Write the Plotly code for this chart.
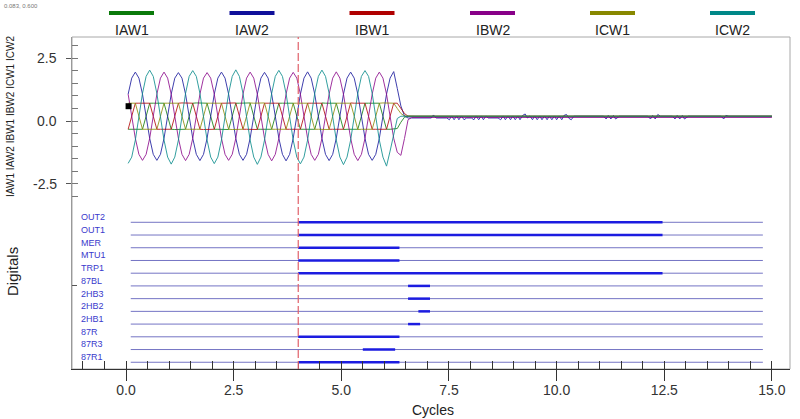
import plotly.graph_objects as go

# ---------------- data ----------------
analog_names = ["IAW1", "IAW2", "IBW1", "IBW2", "ICW1", "ICW2"]
analog_colors = ["#0A7A0A", "#10109A", "#B00000", "#880088", "#888800", "#008888"]

# sample times (cycles)
t_analog = [
    0.050, 0.133, 0.217, 0.300, 0.383, 0.467, 0.550, 0.633, 0.717, 0.800, 0.883, 0.967,
    1.050, 1.133, 1.217, 1.300, 1.383, 1.467, 1.550, 1.633, 1.717, 1.800, 1.883, 1.967,
    2.050, 2.133, 2.217, 2.300, 2.383, 2.467, 2.550, 2.633, 2.717, 2.800, 2.883, 2.967,
    3.050, 3.133, 3.217, 3.300, 3.383, 3.467, 3.550, 3.633, 3.717, 3.800, 3.883, 3.967,
    4.050, 4.133, 4.217, 4.300, 4.383, 4.467, 4.550, 4.633, 4.717, 4.800, 4.883, 4.967,
    5.050, 5.133, 5.217, 5.300, 5.383, 5.467, 5.550, 5.633, 5.717, 5.800, 5.883, 5.967,
    6.050, 6.133, 6.217, 6.300, 6.383, 6.467, 6.550, 6.633,
    6.717, 15.00,
]

iaw1 = [
    -0.33, -0.33, -0.33, -0.33, -0.33, 0.19, 0.71, 0.71, 0.71, 0.71, 0.71, 0.19,
    -0.33, -0.34, -0.33, -0.33, -0.33, 0.19, 0.71, 0.72, 0.71, 0.71, 0.71, 0.19,
    -0.33, -0.33, -0.33, -0.33, -0.34, 0.19, 0.71, 0.71, 0.71, 0.71, 0.72, 0.19,
    -0.33, -0.33, -0.34, -0.33, -0.33, 0.19, 0.71, 0.71, 0.71, 0.72, 0.71, 0.19,
    -0.33, -0.33, -0.33, -0.33, -0.33, 0.19, 0.72, 0.71, 0.71, 0.71, 0.71, 0.19,
    -0.34, -0.33, -0.33, -0.33, -0.33, 0.19, 0.71, 0.71, 0.71, 0.71, 0.71, 0.19,
    -0.33, -0.33, -0.33, -0.30, -0.05, 0.15, 0.19, 0.19,
    0.19, 0.19,
]
iaw2 = [
    1.07, 1.71, 1.95, 1.71, 1.07, 0.19, -0.69, -1.33, -1.57, -1.33, -0.69, 0.19,
    1.07, 1.71, 1.93, 1.71, 1.07, 0.19, -0.69, -1.33, -1.58, -1.33, -0.69, 0.19,
    1.07, 1.71, 1.95, 1.71, 1.07, 0.19, -0.69, -1.33, -1.57, -1.33, -0.69, 0.19,
    1.07, 1.71, 1.94, 1.71, 1.07, 0.19, -0.69, -1.33, -1.59, -1.33, -0.69, 0.19,
    1.07, 1.71, 1.96, 1.71, 1.07, 0.19, -0.69, -1.33, -1.58, -1.33, -0.69, 0.19,
    1.07, 1.71, 1.95, 1.71, 1.07, 0.19, -0.69, -1.33, -1.57, -1.33, -0.69, 0.19,
    1.07, 1.71, 1.97, 1.30, 0.60, 0.20, 0.12, 0.12,
]
# IAW2 residual after breaker opening (small ripples)
iaw2_post_t = [
    6.72, 7.09, 7.14, 7.20, 7.45, 7.51, 7.56, 7.62, 7.68, 7.73, 7.79, 7.85, 7.91,
    8.02, 8.08, 8.13, 8.19, 8.25, 8.30, 8.36, 8.41,
    8.64, 8.70, 8.76, 8.81, 8.87, 8.93, 8.98, 9.04, 9.10, 9.15, 9.21, 9.27, 9.32,
    9.38, 9.44, 9.49, 9.55, 9.61, 9.66, 9.72, 9.78, 9.83, 9.89, 9.95, 10.00,
    10.06, 10.12, 10.17, 10.23, 10.29, 10.34, 10.40,
    11.09, 11.15, 11.20, 11.26, 11.32, 11.37, 11.46,
    12.12, 12.18, 12.23, 12.29, 12.35, 12.41,
    12.69, 12.75, 12.80, 12.86, 12.92, 12.97, 13.06,
    13.82, 13.88, 13.93, 14.00, 15.00,
]
iaw2_post_v = [
    0.12, 0.12, 0.24, 0.12, 0.12, 0.05, 0.20, 0.05, 0.20, 0.05, 0.20, 0.05, 0.12,
    0.12, 0.05, 0.20, 0.05, 0.20, 0.05, 0.20, 0.12,
    0.12, 0.05, 0.20, 0.05, 0.20, 0.05, 0.20, 0.05, 0.20, 0.05, 0.22, 0.28, 0.12,
    0.20, 0.05, 0.20, 0.05, 0.20, 0.05, 0.20, 0.05, 0.20, 0.05, 0.20, 0.05,
    0.20, 0.05, 0.22, 0.26, 0.10, 0.05, 0.19,
    0.19, 0.08, 0.22, 0.08, 0.22, 0.08, 0.19,
    0.19, 0.08, 0.22, 0.08, 0.26, 0.19,
    0.19, 0.08, 0.22, 0.08, 0.22, 0.08, 0.19,
    0.19, 0.08, 0.22, 0.19, 0.19,
]
ibw1 = [
    -0.33, 0.19, 0.71, 0.71, 0.71, 0.71, 0.71, 0.19, -0.33, -0.33, -0.33, -0.33,
    -0.33, 0.19, 0.71, 0.72, 0.71, 0.71, 0.71, 0.19, -0.33, -0.34, -0.33, -0.33,
    -0.33, 0.19, 0.71, 0.71, 0.71, 0.71, 0.72, 0.19, -0.33, -0.33, -0.33, -0.33,
    -0.34, 0.19, 0.71, 0.71, 0.72, 0.71, 0.71, 0.19, -0.33, -0.33, -0.33, -0.34,
    -0.33, 0.19, 0.71, 0.71, 0.71, 0.71, 0.71, 0.19, -0.33, -0.33, -0.34, -0.33,
    -0.33, 0.19, 0.72, 0.71, 0.71, 0.71, 0.71, 0.19, -0.33, -0.33, -0.33, -0.33,
    -0.33, 0.19, 0.71, 0.71, 0.50, 0.30, 0.19, 0.19,
    0.19, 0.19,
]
ibw2 = [
    1.07, 0.19, -0.69, -1.33, -1.57, -1.33, -0.69, 0.19, 1.07, 1.71, 1.95, 1.71,
    1.07, 0.19, -0.69, -1.33, -1.58, -1.33, -0.69, 0.19, 1.07, 1.71, 1.93, 1.71,
    1.07, 0.19, -0.69, -1.33, -1.57, -1.33, -0.69, 0.19, 1.07, 1.71, 1.95, 1.71,
    1.07, 0.19, -0.69, -1.33, -1.59, -1.33, -0.69, 0.19, 1.07, 1.71, 1.94, 1.71,
    1.07, 0.19, -0.69, -1.33, -1.57, -1.33, -0.69, 0.19, 1.07, 1.71, 1.96, 1.71,
    1.07, 0.19, -0.69, -1.33, -1.58, -1.33, -0.69, 0.19, 1.07, 1.71, 1.95, 1.71,
    1.07, 0.19, -0.69, -1.25, -1.37, -0.70, 0.05, 0.14,
    0.14, 0.14,
]
icw1 = [
    0.71, 0.71, 0.71, 0.19, -0.33, -0.33, -0.33, -0.33, -0.33, 0.19, 0.71, 0.71,
    0.71, 0.72, 0.71, 0.19, -0.33, -0.33, -0.34, -0.33, -0.33, 0.19, 0.71, 0.71,
    0.71, 0.71, 0.71, 0.19, -0.33, -0.34, -0.33, -0.33, -0.33, 0.19, 0.72, 0.71,
    0.71, 0.71, 0.72, 0.19, -0.33, -0.33, -0.33, -0.34, -0.33, 0.19, 0.71, 0.71,
    0.72, 0.71, 0.71, 0.19, -0.33, -0.33, -0.33, -0.33, -0.34, 0.19, 0.71, 0.71,
    0.71, 0.71, 0.71, 0.19, -0.34, -0.33, -0.33, -0.33, -0.33, 0.19, 0.71, 0.72,
    0.71, 0.71, 0.71, 0.50, 0.30, 0.20, 0.19, 0.19,
    0.19, 0.19,
]
icw2 = [
    -1.69, -1.44, -0.76, 0.17, 1.10, 1.78, 2.03, 1.78, 1.10, 0.17, -0.76, -1.44,
    -1.72, -1.44, -0.76, 0.17, 1.10, 1.78, 2.01, 1.78, 1.10, 0.17, -0.76, -1.44,
    -1.70, -1.44, -0.76, 0.17, 1.10, 1.78, 2.04, 1.78, 1.10, 0.17, -0.76, -1.44,
    -1.73, -1.44, -0.76, 0.17, 1.10, 1.78, 2.02, 1.78, 1.10, 0.17, -0.76, -1.44,
    -1.71, -1.44, -0.76, 0.17, 1.10, 1.78, 2.03, 1.78, 1.10, 0.17, -0.76, -1.44,
    -1.74, -1.44, -0.76, 0.17, 1.10, 1.78, 2.01, 1.78, 1.10, 0.17, -0.76, -1.44,
    -1.80, -1.20, -0.50, 0.10, 0.19, 0.19, 0.19, 0.19,
    0.19, 0.19,
]

cursor_t, cursor_v = 0.06, 0.59          # black marker (0.083, 0.600 readout)
trigger_cycle = 4.0                       # red dashed line

y_tick_vals = [-2.5, 0.0, 2.5]
y_tick_text = ["-2.5", "0.0", "2.5"]

# digital channels (top -> bottom)
digital_names = ["OUT2", "OUT1", "MER", "MTU1", "TRP1", "87BL",
                 "2HB3", "2HB2", "2HB1", "87R", "87R3", "87R1"]
digital_on = [4.0, 4.0, 4.0, 4.0, 4.0, 6.55, 6.55, 6.79, 6.55, 4.0, 5.50, 4.0]
digital_off = [12.46, 12.46, 6.35, 6.35, 12.46, 7.06, 7.06, 7.06, 6.83, 6.35, 6.25, 6.35]
record_start, record_end = 0.11, 14.79

# ---------------- figure ----------------
W, H = 800, 419
L, R, T, B = 72, 10, 37, 50
PW, PH = W - L - R, H - T - B


def px(xp):
    return (xp - L) / PW


def py(yp):
    return (H - B - yp) / PH


XR = [-1.254, 15.42]
fig = go.Figure()

series = [iaw1, None, ibw1, ibw2, icw1, icw2]
for name, col, vals in zip(analog_names, analog_colors, series):
    if name == "IAW2":
        xs = t_analog[:len(iaw2)] + iaw2_post_t
        ys = iaw2 + iaw2_post_v
    else:
        xs, ys = t_analog, vals
    fig.add_trace(go.Scatter(x=xs, y=ys, mode="lines", name=name, opacity=0.8,
                             line=dict(color=col, width=1), xaxis="x", yaxis="y"))

fig.add_trace(go.Scatter(x=[cursor_t], y=[cursor_v], mode="markers",
                         marker=dict(symbol="square", size=6, color="black"),
                         xaxis="x", yaxis="y"))

n = len(digital_names)
for i, name in enumerate(digital_names):
    lvl = n - 1 - i
    fig.add_trace(go.Scatter(x=[record_start, record_end], y=[lvl, lvl], mode="lines",
                             line=dict(color="#7474C4", width=1), xaxis="x2", yaxis="y2"))
    fig.add_trace(go.Scatter(x=[digital_on[i], digital_off[i]], y=[lvl, lvl], mode="lines",
                             line=dict(color="#1C1CE0", width=2.5), xaxis="x2", yaxis="y2"))

annotations = []
for i, name in enumerate(digital_names):
    lvl = n - 1 - i
    annotations.append(dict(x=-1.09, y=lvl + 0.4, xref="x2", yref="y2", text=name,
                            showarrow=False, xanchor="left", yanchor="middle",
                            font=dict(size=9, color="#3A3ACC")))

# upper-panel tick labels (placed a little away from the axis like the original)
for v, txt in zip(y_tick_vals, y_tick_text):
    annotations.append(dict(x=px(59), y=v, xref="paper", yref="y", text=txt,
                            showarrow=False, xanchor="right", yanchor="middle",
                            font=dict(size=14, color="#333")))

# legend (bars + labels above plot)
leg_centers = [131.5, 252, 372, 492.5, 612.5, 732.5]
shapes = []
for c, name, col in zip(leg_centers, analog_names, analog_colors):
    shapes.append(dict(type="rect", xref="paper", yref="paper",
                       x0=px(c - 22.5), x1=px(c + 22.5), y0=py(15), y1=py(11),
                       fillcolor=col, line=dict(width=0)))
    annotations.append(dict(x=px(c), y=py(30), xref="paper", yref="paper", text=name,
                            showarrow=False, xanchor="center", yanchor="middle",
                            font=dict(size=14, color="#222")))

shapes.append(dict(type="rect", xref="paper", yref="paper", x0=0, x1=1, y0=0, y1=1,
                   line=dict(color="#A8A8A8", width=1), layer="below"))
shapes.append(dict(type="line", xref="x", yref="paper", x0=trigger_cycle, x1=trigger_cycle,
                   y0=0, y1=1, line=dict(color="#E0606A", width=1.2, dash="8px,3px")))

annotations += [
    dict(x=px(10), y=py(117), xref="paper", yref="paper", text="IAW1 IAW2 IBW1 IBW2 ICW1 ICW2",
         textangle=-90, showarrow=False, xanchor="center", yanchor="middle",
         font=dict(size=10, color="#222")),
    dict(x=px(12), y=py(272), xref="paper", yref="paper", text="Digitals",
         textangle=-90, showarrow=False, xanchor="center", yanchor="middle",
         font=dict(size=15, color="#222")),
    dict(x=px(433), y=py(410), xref="paper", yref="paper", text="Cycles",
         showarrow=False, xanchor="center", yanchor="middle",
         font=dict(size=14, color="#222")),
    dict(x=px(2), y=py(6), xref="paper", yref="paper", text="0.083, 0.600",
         showarrow=False, xanchor="left", yanchor="middle", font=dict(size=6, color="#777")),
]

fig.update_layout(
    width=W, height=H, margin=dict(l=L, r=R, t=T, b=B),
    paper_bgcolor="white", plot_bgcolor="white", showlegend=False,
    font=dict(family="Arial, Liberation Sans, sans-serif", color="#333"),
    xaxis=dict(domain=[0, 1], anchor="y", range=XR, matches="x2", showticklabels=False,
               ticks="", showline=False, showgrid=False, zeroline=False),
    yaxis=dict(domain=[0.494, 1], anchor="x", range=[-3.35, 3.35],
               tickvals=y_tick_vals, showticklabels=False,
               ticks="outside", ticklen=5, tickcolor="#555", showline=True, linecolor="#999",
               showgrid=False, zeroline=False,
               minor=dict(tick0=0, dtick=0.5, ticks="inside", ticklen=6, tickcolor="#777",
                          showgrid=False)),
    xaxis2=dict(domain=[0, 1], anchor="y2", range=XR, tick0=0, dtick=2.5, tickformat=".1f",
                ticks="outside", ticklen=11, tickcolor="#333", showline=True, linecolor="#333",
                ticklabelstandoff=-3,
                showgrid=False, zeroline=False, tickfont=dict(size=14, color="#333"),
                minor=dict(tick0=0, dtick=0.5, ticks="inside", ticklen=8, tickcolor="#333",
                           showgrid=False)),
    yaxis2=dict(domain=[0, 0.494], anchor="x2", range=[-0.53, 12.36], tickvals=[6],
                ticktext=[""], ticks="inside", ticklen=5, tickcolor="#555", showline=True,
                linecolor="#999", showgrid=False, zeroline=False),
    shapes=shapes, annotations=annotations, hovermode=False,
)

fig.write_html("out.html", config={"displayModeBar": False},
               post_script="document.body.style.margin='0px';document.body.style.padding='0px';")
